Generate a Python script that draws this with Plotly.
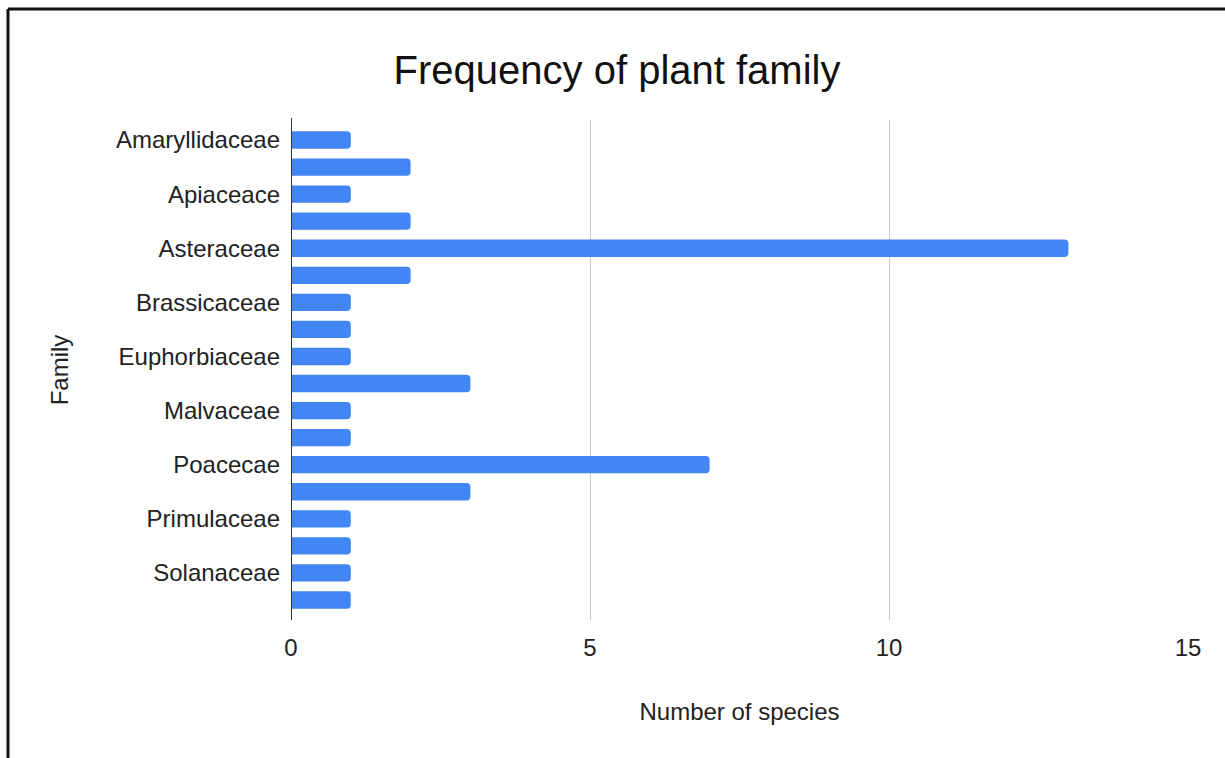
import plotly.graph_objects as go

# Plant families (alphabetical) and how many species fall in each
families = [
    "Amaryllidaceae", "Anacardiaceae", "Apiaceace", "Apocynaceae",
    "Asteraceae", "Boraginaceae", "Brassicaceae", "Cucurbitaceae",
    "Euphorbiaceae", "Fabaceae", "Malvaceae", "Oxalidaceae",
    "Poacecae", "Polygonaceae", "Primulaceae", "Rubiaceae",
    "Solanaceae", "Urticaceae",
]
species_counts = [1, 2, 1, 2, 13, 2, 1, 1, 1, 3, 1, 1, 7, 3, 1, 1, 1, 1]

# Only every other family name is printed on the axis
shown_labels = families[::2]
x_ticks = [0, 5, 10, 15]

FONT = "Liberation Sans, Arial, sans-serif"

fig = go.Figure(
    go.Bar(
        x=species_counts,
        y=families,
        orientation="h",
        marker=dict(color="#4285f4", line=dict(width=0)),
        width=0.64,
    )
)

W, H = 1225, 758
L, R, T, B = 291, 37, 120, 138
pw, ph = W - L - R, H - T - B

fig.update_layout(
    width=W,
    height=H,
    margin=dict(l=L, r=R, t=T, b=B),
    paper_bgcolor="white",
    plot_bgcolor="white",
    showlegend=False,
    barcornerradius=4,
    font=dict(family=FONT, color="#222222"),
    title=dict(
        text="Frequency of plant family",
        font=dict(family=FONT, size=40, color="#111111"),
        x=617 / W,
        xref="container",
        xanchor="center",
        y=1 - 70 / H,
        yref="container",
        yanchor="middle",
    ),
    xaxis=dict(
        range=[0, 15],
        tickvals=x_ticks,
        ticktext=[str(v) for v in x_ticks],
        showgrid=True,
        gridcolor="#cccccc",
        gridwidth=1,
        zeroline=False,
        showline=False,
        ticks="",
        ticklabelstandoff=11,
        tickfont=dict(family=FONT, size=24, color="#222222"),
        title=dict(
            text="Number of species",
            font=dict(family=FONT, size=24, color="#222222"),
            standoff=43,
        ),
        fixedrange=True,
    ),
    yaxis=dict(
        categoryorder="array",
        categoryarray=families,
        autorange=False,
        range=[17.74, -0.74],
        tickvals=shown_labels,
        ticktext=shown_labels,
        showgrid=False,
        zeroline=False,
        showline=False,
        ticks="",
        ticklabelstandoff=10,
        tickfont=dict(family=FONT, size=24, color="#222222"),
        title=dict(
            text="Family",
            font=dict(family=FONT, size=24, color="#222222"),
            standoff=40,
        ),
        fixedrange=True,
    ),
)

# Baseline at zero drawn as a dark vertical rule
fig.add_shape(
    type="line", xref="x", yref="paper",
    x0=0, x1=0, y0=0, y1=1.004,
    line=dict(color="#333333", width=2),
)

# Frame along the top and left of the page
def px_x(p):
    return (p - L) / pw

def px_y(p):
    return (H - B - p) / ph

fig.add_shape(
    type="line", xref="paper", yref="paper",
    x0=px_x(8), x1=px_x(W + 5), y0=px_y(9), y1=px_y(9),
    line=dict(color="#111111", width=3),
)
fig.add_shape(
    type="line", xref="paper", yref="paper",
    x0=px_x(8), x1=px_x(8), y0=px_y(9), y1=px_y(H + 5),
    line=dict(color="#111111", width=3),
)

fig.write_html("out.html")
